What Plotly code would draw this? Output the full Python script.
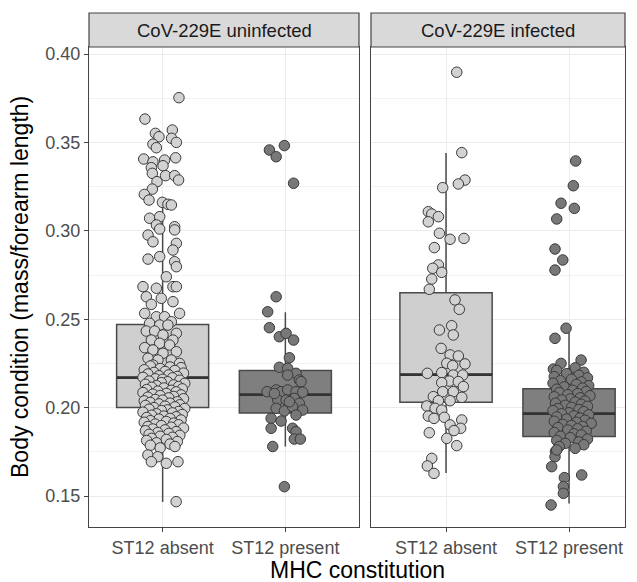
import plotly.graph_objects as go

# ---------------- data ----------------
categories = ["ST12 absent", "ST12 present"]
facets = ["CoV-229E uninfected", "CoV-229E infected"]
y_ticks = [0.15, 0.20, 0.25, 0.30, 0.35, 0.40]
y_tick_labels = ["0.15", "0.20", "0.25", "0.30", "0.35", "0.40"]

# box statistics [q1, median, q3, lower whisker, upper whisker]
box_uninf_absent = [0.200, 0.217, 0.247, 0.1466, 0.3175]
box_uninf_present = [0.197, 0.2073, 0.221, 0.178, 0.254]
box_inf_absent = [0.203, 0.2187, 0.265, 0.163, 0.344]
box_inf_present = [0.1836, 0.1966, 0.2107, 0.1457, 0.245]

# jittered observations: (horizontal jitter in category units, body condition)
pts_uninf_absent = [
    (0.133, 0.3753), (-0.144, 0.3632), (-0.059, 0.3551), (0.079, 0.3570), (-0.030, 0.3532),
    (0.073, 0.3523), (0.112, 0.3500), (-0.079, 0.3490), (-0.051, 0.3470), (-0.154, 0.3406),
    (0.106, 0.3413), (-0.079, 0.3390), (0.016, 0.3400), (0.003, 0.3368), (-0.092, 0.3357),
    (-0.084, 0.3325), (0.024, 0.3312), (0.098, 0.3312), (0.130, 0.3287), (-0.046, 0.3278),
    (-0.084, 0.3236), (-0.149, 0.3206), (-0.111, 0.3174), (-0.002, 0.3161), (0.043, 0.3150),
    (0.071, 0.3146), (-0.106, 0.3071), (-0.024, 0.3080), (-0.051, 0.3033), (0.098, 0.3023),
    (-0.024, 0.3010), (-0.119, 0.2976), (0.098, 0.3005), (-0.079, 0.2938), (0.112, 0.2929),
    (0.084, 0.2891), (-0.119, 0.2840), (-0.024, 0.2854), (0.098, 0.2825), (0.112, 0.2797),
    (0.030, 0.2740), (-0.160, 0.2684), (-0.051, 0.2675), (0.084, 0.2684), (0.112, 0.2684),
    (-0.133, 0.2627), (-0.011, 0.2618), (-0.092, 0.2584), (0.084, 0.2599), (-0.146, 0.2533),
    (-0.051, 0.2514), (0.016, 0.2514), (0.138, 0.2533), (-0.106, 0.2477), (0.071, 0.2486),
    (-0.024, 0.2467), (-0.133, 0.2433), (-0.065, 0.2433), (0.043, 0.2467), (0.112, 0.2420),
    (0.003, 0.2411), (-0.092, 0.2382), (0.084, 0.2382), (-0.024, 0.2364), (-0.146, 0.2339),
    (0.057, 0.2354), (-0.079, 0.2326), (0.112, 0.2316), (0.003, 0.2307), (-0.119, 0.2279),
    (-0.038, 0.2269), (0.071, 0.2269), (0.138, 0.2250), (-0.079, 0.2241),
    (-0.10, 0.2235), (0.06, 0.2230), (0.15, 0.2226), (-0.02, 0.2221), (-0.15, 0.2214),
    (0.10, 0.2210), (0.02, 0.2204), (-0.07, 0.2199), (0.17, 0.2195), (-0.12, 0.2190),
    (0.05, 0.2185), (-0.03, 0.2180), (0.12, 0.2176), (-0.16, 0.2171), (0.08, 0.2168),
    (-0.06, 0.2163), (0.00, 0.2160), (0.14, 0.2155), (-0.11, 0.2150), (0.04, 0.2146),
    (-0.01, 0.2141), (0.18, 0.2137), (-0.14, 0.2132), (0.09, 0.2128), (-0.05, 0.2124),
    (0.13, 0.2119), (-0.09, 0.2115), (0.01, 0.2111), (0.16, 0.2106), (-0.13, 0.2102),
    (0.07, 0.2098), (-0.04, 0.2093), (0.11, 0.2089), (-0.16, 0.2085), (0.03, 0.2080),
    (-0.08, 0.2076), (0.15, 0.2072), (-0.02, 0.2068), (0.09, 0.2063), (-0.12, 0.2059),
    (0.05, 0.2055), (0.17, 0.2050), (-0.06, 0.2046), (0.00, 0.2042), (-0.15, 0.2038),
    (0.12, 0.2033), (-0.10, 0.2029), (0.06, 0.2025), (-0.03, 0.2021), (0.14, 0.2016),
    (-0.14, 0.2012), (0.02, 0.2008), (0.10, 0.2004), (-0.07, 0.2000), (0.18, 0.1995),
    (-0.11, 0.1991), (0.04, 0.1987), (-0.01, 0.1983), (0.13, 0.1978), (-0.16, 0.1974),
    (0.08, 0.1970), (-0.05, 0.1965), (0.16, 0.1961), (-0.09, 0.1957), (0.01, 0.1952),
    (0.11, 0.1948), (-0.13, 0.1944), (0.06, 0.1939), (-0.03, 0.1935), (0.15, 0.1930),
    (-0.10, 0.1926), (0.03, 0.1921), (-0.15, 0.1917), (0.09, 0.1912), (-0.06, 0.1907),
    (0.13, 0.1903), (-0.01, 0.1898), (-0.12, 0.1893), (0.07, 0.1889), (0.17, 0.1884),
    (-0.08, 0.1879), (0.02, 0.1874), (-0.14, 0.1869), (0.11, 0.1864), (-0.04, 0.1859),
    (0.05, 0.1854), (-0.11, 0.1849), (0.14, 0.1843), (-0.02, 0.1838), (0.08, 0.1832),
    (-0.09, 0.1826), (0.03, 0.1820), (-0.13, 0.1814), (0.12, 0.1808), (-0.05, 0.1801),
    (0.06, 0.1794), (-0.10, 0.1787), (0.10, 0.1780), (-0.02, 0.1772),
    (-0.12, 0.1732), (-0.04, 0.1722), (0.125, 0.1694), (-0.092, 0.1694), (0.03, 0.1685),
    (0.11, 0.1468),
]

pts_uninf_present = [
    (-0.008, 0.3482), (-0.130, 0.3457), (-0.075, 0.3419), (0.067, 0.3269), (-0.075, 0.2627),
    (-0.144, 0.2542), (-0.130, 0.2452), (-0.049, 0.2401), (0.006, 0.2420), (0.067, 0.2382),
    (0.033, 0.2282), (-0.049, 0.2228), (0.019, 0.2222), (0.087, 0.2194), (0.019, 0.2184),
    (0.114, 0.2156), (0.128, 0.2147), (-0.149, 0.2090), (-0.075, 0.2100), (-0.035, 0.2090),
    (0.019, 0.2100), (0.087, 0.2090), (0.141, 0.2087), (-0.062, 0.2043), (0.006, 0.2043),
    (0.073, 0.2052), (0.114, 0.2024), (-0.075, 0.1996), (-0.008, 0.1981), (0.059, 0.2005),
    (0.141, 0.1986), (0.087, 0.1958), (-0.116, 0.1939), (-0.035, 0.1924), (-0.116, 0.1883),
    (0.059, 0.1883), (0.087, 0.1864), (0.073, 0.1822), (0.122, 0.1822), (-0.103, 0.1780),
    (-0.089, 0.2080), (0.033, 0.2033), (-0.008, 0.1553),
]

pts_inf_absent = [
    (0.087, 0.3897), (0.128, 0.3442), (0.154, 0.3287), (0.100, 0.3265), (-0.027, 0.3244),
    (-0.144, 0.3108), (-0.116, 0.3095), (-0.062, 0.3080), (-0.144, 0.3051), (-0.054, 0.2986),
    (0.033, 0.2952), (0.146, 0.2957), (-0.095, 0.2905), (-0.062, 0.2807), (-0.108, 0.2788),
    (-0.035, 0.2765), (-0.116, 0.2727), (-0.136, 0.2669), (0.073, 0.2609), (0.108, 0.2556),
    (0.046, 0.2463), (-0.054, 0.2439), (0.059, 0.2411), (-0.040, 0.2335), (0.033, 0.2298),
    (0.100, 0.2292), (0.154, 0.2247), (0.006, 0.2251), (0.054, 0.2237), (-0.152, 0.2194),
    (-0.035, 0.2198), (0.059, 0.2184), (0.136, 0.2184), (0.027, 0.2150), (-0.035, 0.2141),
    (0.100, 0.2147), (0.141, 0.2119), (-0.027, 0.2090), (-0.103, 0.2062), (0.059, 0.2090),
    (0.128, 0.2058), (-0.062, 0.2039), (0.033, 0.2039), (-0.157, 0.2009), (-0.089, 0.1996),
    (-0.035, 0.1986), (-0.144, 0.1952), (-0.098, 0.1939), (-0.014, 0.1945), (0.128, 0.1930),
    (0.033, 0.1902), (0.119, 0.1883), (0.065, 0.1870), (-0.136, 0.1858), (0.006, 0.1826),
    (0.087, 0.1785), (-0.116, 0.1713), (-0.152, 0.1670), (-0.098, 0.1628),
]

pts_inf_present = [
    (0.054, 0.3395), (0.035, 0.3255), (-0.065, 0.3156), (0.043, 0.3127), (-0.100, 0.3067),
    (-0.114, 0.2897), (-0.051, 0.2835), (-0.114, 0.2778), (-0.024, 0.2449), (-0.114, 0.2392),
    (0.098, 0.2269), (-0.127, 0.2218), (-0.065, 0.2250), (0.008, 0.2194), (0.071, 0.2165),
    (0.05, 0.2225), (-0.10, 0.2210), (0.12, 0.2200), (-0.02, 0.2192), (0.08, 0.2183),
    (-0.12, 0.2175), (0.15, 0.2168), (0.02, 0.2160), (-0.07, 0.2152), (0.10, 0.2145),
    (-0.13, 0.2138), (0.06, 0.2131), (0.16, 0.2124), (-0.04, 0.2117), (0.11, 0.2110),
    (-0.10, 0.2104), (0.03, 0.2098), (0.14, 0.2091), (-0.08, 0.2085), (0.07, 0.2079),
    (-0.01, 0.2073), (0.17, 0.2067), (-0.12, 0.2061), (0.09, 0.2055), (0.01, 0.2049),
    (-0.06, 0.2043), (0.13, 0.2037), (0.05, 0.2031), (-0.11, 0.2025), (0.10, 0.2019),
    (-0.03, 0.2013), (0.15, 0.2007), (0.02, 0.2001), (-0.09, 0.1995), (0.08, 0.1989),
    (-0.13, 0.1983), (0.12, 0.1977), (0.00, 0.1971), (-0.06, 0.1965), (0.16, 0.1959),
    (0.04, 0.1953), (-0.10, 0.1947), (0.09, 0.1941), (-0.02, 0.1935), (0.13, 0.1929),
    (-0.12, 0.1923), (0.06, 0.1917), (0.18, 0.1911), (-0.05, 0.1905), (0.02, 0.1899),
    (0.11, 0.1893), (-0.09, 0.1887), (0.07, 0.1880), (-0.01, 0.1873), (0.14, 0.1866),
    (-0.12, 0.1859), (0.04, 0.1852), (0.10, 0.1845), (-0.07, 0.1838), (0.01, 0.1830),
    (0.15, 0.1822), (-0.10, 0.1814), (0.08, 0.1806), (-0.03, 0.1798), (0.12, 0.1790),
    (-0.08, 0.1780), (0.05, 0.1770), (-0.11, 0.1752), (-0.114, 0.1722), (-0.100, 0.1760),
    (-0.141, 0.1666), (0.103, 0.1619), (-0.038, 0.1604), (-0.046, 0.1553), (-0.046, 0.1515),
    (-0.146, 0.1449),
]

# ---------------- styling ----------------
FILL_ABSENT = "#cfcfcf"
FILL_PRESENT = "#7f7f7f"
PT_ABSENT = "#d2d2d2"
PT_PRESENT = "#787878"
EDGE = "#3a3a3a"
BOXLINE = "#4a4a4a"
FONT = "Liberation Sans, Arial, sans-serif"
TICK_SIZE = 18
STRIP_SIZE = 18.5
TITLE_SIZE = 23
BOX_W = 0.75

fig = go.Figure()

groups = [
    ("x", "y", 1, box_uninf_absent, pts_uninf_absent, FILL_ABSENT, PT_ABSENT),
    ("x", "y", 2, box_uninf_present, pts_uninf_present, FILL_PRESENT, PT_PRESENT),
    ("x2", "y2", 1, box_inf_absent, pts_inf_absent, FILL_ABSENT, PT_ABSENT),
    ("x2", "y2", 2, box_inf_present, pts_inf_present, FILL_PRESENT, PT_PRESENT),
]

for xa, ya, pos, stats, pts, fill, ptcol in groups:
    q1, med, q3, lo, hi = stats
    fig.add_trace(go.Box(
        x=[pos], q1=[q1], median=[med], q3=[q3], lowerfence=[lo], upperfence=[hi],
        width=BOX_W, boxpoints=False, whiskerwidth=0,
        fillcolor=fill, line=dict(color=BOXLINE, width=1.5),
        xaxis=xa, yaxis=ya, showlegend=False, hoverinfo="skip",
    ))

# thicker median bars (ggplot fatten) drawn under the points
for xa, ya, pos, stats, pts, fill, ptcol in groups:
    med = stats[1]
    fig.add_trace(go.Scatter(
        x=[pos - BOX_W / 2, pos + BOX_W / 2], y=[med, med], mode="lines",
        line=dict(color="#333333", width=2.8),
        xaxis=xa, yaxis=ya, showlegend=False, hoverinfo="skip",
    ))

for xa, ya, pos, stats, pts, fill, ptcol in groups:
    fig.add_trace(go.Scatter(
        x=[pos + j for j, v in pts], y=[v for j, v in pts],
        mode="markers",
        marker=dict(size=10.5, color=ptcol, line=dict(color=EDGE, width=1)),
        xaxis=xa, yaxis=ya, showlegend=False,
    ))

L, R, T, B = 89, 12, 47, 55
W, H = 637, 582
pw = W - L - R
ph = H - T - B
d1 = [0, (359 - L) / pw]
d2 = [(371 - L) / pw, 1]

xcommon = dict(
    tickvals=[1, 2], ticktext=categories, showgrid=True, gridcolor="#ebebeb", gridwidth=1.2,
    showline=True, mirror=True, linecolor="#444444", linewidth=1.2,
    ticks="outside", ticklen=4, tickcolor="#444444", tickangle=0, automargin=False,
    tickfont=dict(family=FONT, size=TICK_SIZE, color="#4d4d4d"), zeroline=False,
)
minor_vals = [0.175, 0.225, 0.275, 0.325, 0.375]
ycommon = dict(
    range=[0.13247, 0.40396], tickvals=y_ticks, ticktext=y_tick_labels,
    showgrid=True, gridcolor="#ebebeb", gridwidth=1.2, automargin=False,
    minor=dict(tickvals=minor_vals, showgrid=True, gridcolor="#f2f2f2", gridwidth=0.6, ticks=""),
    showline=True, mirror=True, linecolor="#444444", linewidth=1.2, zeroline=False,
)

fig.update_layout(
    width=W, height=H, margin=dict(l=L, r=R, t=T, b=B, autoexpand=False),
    plot_bgcolor="white", paper_bgcolor="white",
    xaxis=dict(domain=d1, range=[0.4, 2.6], **xcommon),
    xaxis2=dict(domain=d2, range=[0.39, 2.455], **xcommon),
    yaxis=dict(ticks="outside", ticklen=4, tickcolor="#444444",
               tickfont=dict(family=FONT, size=TICK_SIZE, color="#4d4d4d"), **ycommon),
    yaxis2=dict(anchor="x2", matches="y", showticklabels=False, ticks="", **ycommon),
    font=dict(family=FONT),
)

strip_h = 34 / ph
for dom, label in zip([d1, d2], facets):
    fig.add_shape(type="rect", xref="paper", yref="paper",
                  x0=dom[0], x1=dom[1], y0=1, y1=1 + strip_h,
                  fillcolor="#d9d9d9", line=dict(color="#444444", width=1.2))
    fig.add_annotation(xref="paper", yref="paper", x=(dom[0] + dom[1]) / 2, y=1 + strip_h / 2,
                       xanchor="center", yanchor="middle",
                       text=label, showarrow=False,
                       font=dict(family=FONT, size=STRIP_SIZE, color="#1a1a1a"))

fig.add_annotation(xref="paper", yref="paper", x=0.5, y=-43 / ph,
                   xanchor="center", yanchor="middle",
                   text="MHC constitution", showarrow=False,
                   font=dict(family=FONT, size=TITLE_SIZE, color="black"))
fig.add_annotation(xref="paper", yref="paper", x=-69 / pw, y=0.5,
                   xanchor="center", yanchor="middle",
                   text="Body condition (mass/forearm length)", showarrow=False, textangle=-90,
                   font=dict(family=FONT, size=TITLE_SIZE, color="black"))

fig.write_html("out.html", config={"displayModeBar": False},
               post_script="document.body.style.margin='0';")
